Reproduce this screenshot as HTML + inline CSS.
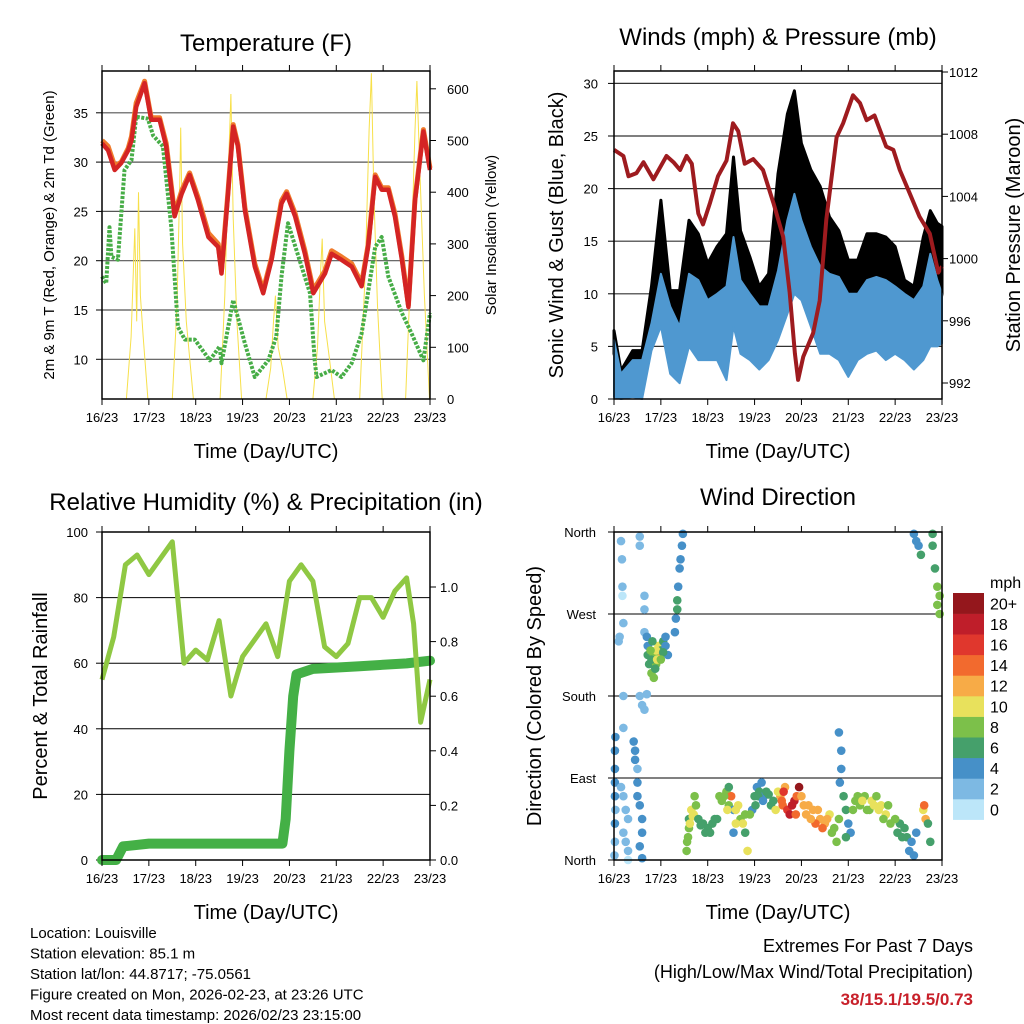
<!DOCTYPE html>
<html><head><meta charset="utf-8"><style>
html,body{margin:0;padding:0;background:#fff;}
svg{display:block;font-family:"Liberation Sans",Arial,sans-serif;}
</style></head><body>
<svg id="chart" width="1024" height="1024" viewBox="0 0 1024 1024">
<rect width="1024" height="1024" fill="#fff"/>
<g id="layer"></g>
</svg>
<script>
// ---------- Temperature panel data ----------
const tempT = [0,0.13,0.27,0.41,0.56,0.63,0.73,0.91,1.05,1.23,1.37,1.55,1.7,1.87,2.05,2.27,2.48,2.55,2.69,2.8,2.9,3.05,3.26,3.44,3.62,3.83,3.94,4.12,4.33,4.51,4.76,4.9,5.11,5.33,5.54,5.68,5.83,5.97,6.11,6.25,6.4,6.54,6.68,6.86,7];
const tempV = [31.9,31.2,29.2,29.9,31.2,32.2,35.6,38,34.3,34.3,31.6,24.5,26.8,28.7,26.1,22.4,21.4,18.7,26.8,33.6,31.6,25.1,19.4,16.7,20.1,25.8,26.8,24.5,20.7,16.7,18.7,20.7,20.1,19.4,17.4,21.4,28.5,27.2,27.2,24.5,20.1,15.3,26.1,33.1,29.2];
const temp9mV = [32.2,31.6,29.6,30.0,31.4,32.6,36.0,38.2,34.5,34.5,31.9,24.8,27.1,28.9,26.4,22.8,21.7,19.0,27.0,33.8,31.8,25.4,19.7,17.0,20.3,26.1,27.0,24.8,21.0,17.0,19.0,21.0,20.4,19.7,17.7,21.6,28.7,27.4,27.4,24.8,20.4,15.5,26.3,33.3,29.4];
const dewT = [0,0.09,0.16,0.2,0.34,0.48,0.63,0.73,0.98,1.09,1.3,1.48,1.62,1.77,1.98,2.3,2.51,2.55,2.8,3.05,3.26,3.55,3.72,3.83,3.97,4.26,4.44,4.54,4.58,4.9,5.11,5.33,5.54,5.83,5.97,6.11,6.4,6.61,6.86,7];
const dewV = [18.4,17.7,23.4,20.4,20.1,29.2,30.2,34.6,34.4,32.7,31.6,23.4,13.3,12,12,9.9,11.3,9.6,16,11.6,8.2,9.9,12.3,18.4,23.8,19.4,16.7,9.9,8.2,8.9,8.2,9.6,12.6,21.4,22.4,18.4,14.7,12.6,9.9,14.7];
const solarT = [0.52,0.62,0.7,0.74,0.78,0.82,0.88,0.98, 1.5,1.6,1.66,1.68,1.72,1.8,1.95, 2.52,2.62,2.7,2.75,2.8,2.88,2.98, 3.5,3.6,3.66,3.7,3.76,3.85,3.95, 4.5,4.6,4.66,4.7,4.75,4.85,4.96, 5.5,5.62,5.7,5.75,5.8,5.88,5.98, 6.48,6.6,6.68,6.72,6.78,6.88,6.99];
const solarV = [0,120,330,150,400,200,120,0, 0,180,420,525,300,150,0, 0,200,450,590,350,150,0, 0,60,150,200,100,60,0, 0,100,240,310,150,80,0, 0,250,520,630,400,180,0, 0,280,520,615,450,200,0];
const tempTicks = [10,15,20,25,30,35];
const solarTicks = [0,100,200,300,400,500,600];
const dayLabels = ["16/23","17/23","18/23","19/23","20/23","21/23","22/23","23/23"];

// ---------- Winds panel data ----------
const windT = [0,0.15,0.4,0.6,0.8,1.0,1.2,1.4,1.6,1.8,2.0,2.2,2.4,2.55,2.7,2.9,3.1,3.3,3.5,3.7,3.85,4.0,4.2,4.4,4.6,4.8,5.0,5.2,5.4,5.6,5.8,6.0,6.2,6.4,6.6,6.75,6.9,7.0];
const windHi = [5.6,2.4,3.7,3.7,7.2,11.9,8.8,6.9,11.9,11.3,9.4,10,10.7,15.4,11.3,10,8.8,8.8,12.2,17,19.5,17,14.5,12.6,11.9,11.6,10,10,11.3,11.6,11.3,10.7,10,9.4,10.7,13.8,11.3,10];
const windLo = [0.2,0,0.2,0,4.6,6.9,2.4,1.5,5,3.7,3.7,3.7,1.8,6.9,4.3,3.7,2.8,3.7,5.6,8.1,10,9.4,6.9,4.3,4.3,3.7,2.1,3.7,4.3,4.6,3.7,4.3,3.7,2.8,3.7,5,5,5.3];
const gustHi = [6.5,2.7,4.6,4.6,10.7,18.9,10.3,10.3,17,15.7,12.9,14.5,15.7,23,16,13.5,10.7,11.9,21.4,27.1,29.3,24.3,21.8,20.2,17.3,16,13.2,13.2,15.7,15.7,15.4,14.5,11.3,10.7,15.4,17.9,16.7,16.4];
const gustLo = [4.3,1.8,2.1,3,5.9,10,5,4.3,8.4,8.1,6.9,7.2,7.5,10,8.1,6.2,5,6.6,10,13.2,16.4,12.6,10,6.9,9.4,6.9,6.2,6.9,7.5,8.1,8.1,8.4,6.9,5.6,6.9,10,7.5,10];
const presT = [0,0.2,0.31,0.48,0.63,0.84,1.12,1.27,1.41,1.55,1.66,1.8,1.9,2.05,2.22,2.4,2.54,2.65,2.79,2.97,3.18,3.4,3.61,3.75,3.86,3.93,4.04,4.25,4.39,4.53,4.75,4.89,5.1,5.25,5.39,5.56,5.81,5.96,6.1,6.31,6.52,6.74,6.92,7];
const presV = [1007,1006.6,1005.3,1005.5,1006.2,1005.1,1006.6,1006.2,1005.7,1006.6,1006.1,1002.9,1002.2,1003.6,1005.3,1006.3,1008.7,1008.2,1006.1,1006.4,1005.7,1003.6,1001.4,997.8,993.9,992.2,993.7,995.2,997.3,1002.5,1007.8,1008.7,1010.5,1010,1008.9,1009.2,1007.2,1007,1005.7,1004.2,1002.7,1001.6,999.1,999.5];
const windTicks = [0,5,10,15,20,25,30];
const presTicks = [992,996,1000,1004,1008,1012];

// ---------- RH panel data ----------
const rhT = [0,0.25,0.5,0.75,1.0,1.25,1.5,1.75,2.0,2.25,2.5,2.75,3.0,3.25,3.5,3.75,4.0,4.25,4.5,4.75,5.0,5.25,5.5,5.75,6.0,6.25,6.5,6.65,6.8,7.0];
const rhV = [55,68,90,93,87,92,97,60,64,61,73,50,62,67,72,62,85,90,85,65,62,66,80,80,74,82,86,72,42,55];
const rainT = [0,0.3,0.45,1.0,2.0,3.0,3.85,3.92,4.0,4.08,4.15,4.5,5.5,6.5,7];
const rainV = [0,0,0.05,0.06,0.06,0.06,0.06,0.15,0.4,0.6,0.68,0.70,0.71,0.72,0.73];
const rhTicks = [0,20,40,60,80,100];
const rainTicks = ["0.0","0.2","0.4","0.6","0.8","1.0"];

// ---------- Wind direction data ----------
const dirT = [0.02,0.02,0.03,0.02,0.02,0.01,0.02,0.02,0.03,0.15,0.17,0.18,0.18,0.2,0.12,0.1,0.15,0.2,0.25,0.3,0.2,0.25,0.3,0.3,0.2,0.2,0.42,0.45,0.45,0.5,0.5,0.5,0.55,0.6,0.6,0.55,0.6,0.55,0.6,0.65,0.7,0.55,0.55,0.65,0.65,0.65,
0.7,0.72,0.72,0.75,0.8,0.85,0.9,0.95,0.95,1.0,1.05,1.1,1.15,0.85,0.8,0.9,1.05,1.1,
1.3,1.32,1.35,1.35,1.37,1.4,1.42,1.45,1.47,
1.55,1.56,1.6,1.65,1.7,1.75,1.72,1.6,1.9,2.0,2.1,2.2,1.95,
2.25,2.3,2.4,2.45,2.5,2.45,2.55,2.55,2.6,2.7,2.75,2.8,2.85,2.8,
3.0,3.05,3.1,3.2,3.3,3.35,3.15,2.95,
3.55,3.6,3.7,3.85,3.9,3.95,4.05,3.75,3.5,3.65,
4.35,4.4,4.5,4.6,4.7,4.8,4.75,4.3,
4.8,4.85,4.85,4.82,4.9,4.95,5.0,5.05,4.95,
5.15,5.25,5.35,5.5,5.6,5.7,5.8,5.9,5.45,
6.1,6.2,6.25,6.3,6.35,6.4,6.45,
6.6,6.65,6.62,6.7,6.75,
6.4,6.45,6.5,6.55,
6.8,6.8,6.85,6.9,6.95,6.9,6.95,
1.58,1.62,1.68,1.8,1.85,2.05,2.15,2.35,2.42,2.6,2.65,2.9,3.02,3.08,3.18,3.25,3.4,3.45,3.58,3.62,3.8,3.88,4.0,4.1,4.15,4.2,4.25,4.45,4.55,4.65,5.1,5.2,5.3,5.4,5.55,5.65,5.75,5.85,6.0,6.05,6.15,0.78,0.88,0.82,0.92,1.0];
const dirDeg = [85,70,55,40,20,5,100,120,135,350,330,300,290,260,245,240,80,70,55,45,30,20,10,0,180,145,130,120,110,100,85,70,60,45,30,15,2,180,170,165,182,355,345,290,275,250,
245,235,225,215,205,200,215,225,235,230,240,235,225,225,220,230,228,245,
250,265,275,285,300,320,330,345,358,
10,20,45,55,50,60,70,35,40,35,40,45,30,
70,65,75,60,70,80,55,30,55,45,40,30,10,50,
70,80,75,70,72,60,85,55,
70,60,55,65,70,80,60,50,75,80,
55,45,40,50,35,45,20,40,
140,120,100,85,70,55,40,30,25,
65,60,70,65,70,60,50,40,55,
40,35,25,10,20,5,30,
55,45,60,40,20,
358,350,345,335,
358,345,320,300,290,280,270,
25,40,48,45,38,30,45,70,55,40,60,50,60,70,65,75,65,55,65,75,60,50,70,50,60,45,55,35,45,30,55,70,65,55,60,55,45,60,45,30,25,230,210,240,220,220];
const dirSpd = [3,3,2,3,2,2,4,4,4,1,1,1,0,1,1,2,2,2,1,2,1,1,1,0,1,2,3,3,3,2,3,3,3,3,3,3,3,1,1,1,2,1,2,1,1,1,
4,4,6,6,7,8,7,12,10,6,6,4,4,8,6,9,5,3,
4,4,6,6,3,4,3,4,4,
8,8,6,10,9,8,7,7,5,6,6,5,5,
7,7,7,8,14,6,4,4,10,8,10,6,9,7,
6,4,6,4,6,5,4,4,
12,14,16,18,14,20,12,18,10,12,
12,12,12,10,8,8,7,14,
3,3,3,4,6,6,4,4,6,
8,8,7,10,8,9,10,8,7,
6,6,5,4,4,3,4,
10,12,14,6,6,
4,3,4,6,
6,6,6,8,7,7,8,
8,9,10,6,5,6,6,7,10,9,9,8,5,6,4,6,6,10,13,16,17,14,12,11,12,12,12,13,11,8,8,7,10,8,9,10,8,7,7,6,5,8,6,5,9,7];
const dirLabels = ["North","East","South","West","North"];
const spdLabels = ["0","2","4","6","8","10","12","14","16","18","20+"];
const spdColors = ["#bce6f9","#7db9e3","#4690c8","#45a06b","#7cc04a","#e8e15c","#f7ab47","#f26a2e","#e0372d","#bf1e2a","#94171c"];

const NS="http://www.w3.org/2000/svg";
const layer=document.getElementById('layer');
function mk(tag,attrs,parent){const e=document.createElementNS(NS,tag);for(const k in attrs)e.setAttribute(k,attrs[k]);(parent||layer).appendChild(e);return e;}
function txt(x,y,s,size,anchor,parent,extra){const e=mk('text',Object.assign({x:x,y:y,'font-size':size,'text-anchor':anchor||'middle',fill:'#000'},extra||{}),parent);e.textContent=s;return e;}
function path(pts){return pts.map((p,i)=>(i?'L':'M')+p[0].toFixed(1)+','+p[1].toFixed(1)).join('');}

function panel(name,x0,x1,y0,y1){
  const g=mk('g',{});
  
  
  return {g:g,x0:x0,x1:x1,y0:y0,y1:y1,X:d=>x0+d*(x1-x0)/7};
}
function frame(P){
  const r=mk('rect',{x:P.x0,y:P.y0,width:P.x1-P.x0,height:P.y1-P.y0,fill:'none',stroke:'#000','stroke-width':1.5},P.g);
  
  
}
function xAxis(P,titleY){
  const ax=mk('g',{},P.g);
  
  
  dayLabels.forEach((s,i)=>{
    const x=P.X(i);
    mk('line',{x1:x,x2:x,y1:P.y1,y2:P.y1+6,stroke:'#000','stroke-width':1},ax);
    mk('line',{x1:x,x2:x,y1:P.y0,y2:P.y0-6,stroke:'#000','stroke-width':1},ax);
    const t=txt(x,P.y1+23,s,13,'middle',ax);
    
    
  });
  const t=txt((P.x0+P.x1)/2,titleY,'Time (Day/UTC)',20,'middle',ax);
  
  
}
function title(x,y,s){const t=txt(x,y,s,24,'middle');}
function vtitle(x,y,s,size,name){const t=txt(0,0,s,size,'middle',layer,{transform:'translate('+x+','+y+') rotate(-90)'});}

// ===== Temperature panel =====
(function(){
  const P=panel('temperature-panel',102,430,71,399);
  const Y=v=>359.3-(v-10)*9.86;
  const YS=v=>399-v*0.517;
  tempTicks.forEach(v=>{
    mk('line',{x1:P.x0,x2:P.x1,y1:Y(v),y2:Y(v),stroke:'#555','stroke-width':1.2},P.g);
    mk('line',{x1:P.x0-6,x2:P.x0,y1:Y(v),y2:Y(v),stroke:'#000'},P.g);
    const t=txt(P.x0-14,Y(v)+5,String(v),13,'end',P.g);
  });
  solarTicks.forEach(v=>{
    mk('line',{x1:P.x1,x2:P.x1+6,y1:YS(v),y2:YS(v),stroke:'#000'},P.g);
    const t=txt(P.x1+17,YS(v)+5,String(v),13,'start',P.g);
  });
  const clip=mk('clipPath',{id:'c1'},P.g);mk('rect',{x:P.x0,y:P.y0,width:P.x1-P.x0,height:P.y1-P.y0},clip);
  const sp=mk('path',{d:path(solarT.map((t,i)=>[P.X(t),YS(solarV[i])])),fill:'none',stroke:'#f7e04a','stroke-width':1,'clip-path':'url(#c1)'},P.g);
  
  const dp=mk('path',{d:path(dewT.map((t,i)=>[P.X(t),Y(dewV[i])])),fill:'none',stroke:'#47ad47','stroke-width':4,'stroke-dasharray':'3 1.5','stroke-linejoin':'round'},P.g);
  
  const op=mk('path',{d:path(tempT.map((t,i)=>[P.X(t),Y(temp9mV[i])])),fill:'none',stroke:'#f07b2c','stroke-width':5,'stroke-linejoin':'round'},P.g);
  
  const rp=mk('path',{d:path(tempT.map((t,i)=>[P.X(t),Y(tempV[i])])),fill:'none',stroke:'#d42424','stroke-width':4.5,'stroke-linejoin':'round'},P.g);
  
  frame(P);xAxis(P,458);
  title(266,51,'Temperature (F)');
  vtitle(54,235,'2m & 9m T (Red, Orange) & 2m Td (Green)',15,'y-axis-title');
  vtitle(496,235,'Solar Insolation (Yellow)',15,'right-axis-title');
})();

// ===== Winds panel =====
(function(){
  const P=panel('winds-panel',614,942,71,399);
  const Y=v=>399-v*10.52;
  const YP=v=>383-(v-992)*15.55;
  windTicks.forEach(v=>{
    if(v>0)mk('line',{x1:P.x0,x2:P.x1,y1:Y(v),y2:Y(v),stroke:'#333','stroke-width':1.2},P.g);
    mk('line',{x1:P.x0-6,x2:P.x0,y1:Y(v),y2:Y(v),stroke:'#000'},P.g);
    const t=txt(P.x0-16,Y(v)+5,String(v),13,'end',P.g);
  });
  presTicks.forEach(v=>{
    mk('line',{x1:P.x1,x2:P.x1+6,y1:YP(v),y2:YP(v),stroke:'#000'},P.g);
    const t=txt(P.x1+7,YP(v)+5,String(v),13,'start',P.g);
  });
  const gb=windT.map((t,i)=>[P.X(t),Y(gustHi[i])]).concat(windT.map((t,i)=>[P.X(t),Y(gustLo[i])]).reverse());
  const g1=mk('path',{d:path(gb)+'Z',fill:'#000',stroke:'#000','stroke-width':3,'stroke-linejoin':'round'},P.g);
  
  const wb=windT.map((t,i)=>[P.X(t),Y(windHi[i])]).concat(windT.map((t,i)=>[P.X(t),Y(windLo[i])]).reverse());
  const w1=mk('path',{d:path(wb)+'Z',fill:'#4f98d0',stroke:'#4f98d0','stroke-width':2,'stroke-linejoin':'round'},P.g);
  
  const pp=mk('path',{d:path(presT.map((t,i)=>[P.X(t),YP(presV[i])])),fill:'none',stroke:'#9e1b1f','stroke-width':4,'stroke-linejoin':'round'},P.g);
  
  frame(P);xAxis(P,458);
  title(778,45,'Winds (mph) & Pressure (mb)');
  vtitle(563,235,'Sonic Wind & Gust (Blue, Black)',20,'y-axis-title');
  vtitle(1020,235,'Station Pressure (Maroon)',20,'right-axis-title');
})();

// ===== RH panel =====
(function(){
  const P=panel('humidity-precip-panel',102,430,532,860);
  const Y=v=>860-v*3.28;
  const YR=v=>860-v*273;
  rhTicks.forEach(v=>{
    if(v>0&&v<100)mk('line',{x1:P.x0,x2:P.x1,y1:Y(v),y2:Y(v),stroke:'#000','stroke-width':1},P.g);
    mk('line',{x1:P.x0-6,x2:P.x0,y1:Y(v),y2:Y(v),stroke:'#000'},P.g);
    const t=txt(P.x0-14,Y(v)+5,String(v),13,'end',P.g);
  });
  rainTicks.forEach(s=>{
    const v=parseFloat(s);
    mk('line',{x1:P.x1,x2:P.x1+6,y1:YR(v),y2:YR(v),stroke:'#000'},P.g);
    const t=txt(P.x1+10,YR(v)+5,s,13,'start',P.g);
  });
  const rp=mk('path',{d:path(rainT.map((t,i)=>[P.X(t),YR(rainV[i])])),fill:'none',stroke:'#44b046','stroke-width':10,'stroke-linejoin':'round','stroke-linecap':'round'},P.g);
  
  const hp=mk('path',{d:path(rhT.map((t,i)=>[P.X(t),Y(rhV[i])])),fill:'none',stroke:'#8fc843','stroke-width':5,'stroke-linejoin':'round'},P.g);
  
  frame(P);xAxis(P,919);
  title(266,510,'Relative Humidity (%) & Precipitation (in)');
  vtitle(47,696,'Percent & Total Rainfall',20,'y-axis-title');
})();

// ===== Wind direction panel =====
(function(){
  const P=panel('wind-direction-panel',614,942,532,860);
  const Y=v=>860-v*328/360;
  dirLabels.forEach((s,i)=>{
    const y=Y(i*90);
    if(i>0&&i<4)mk('line',{x1:P.x0,x2:P.x1,y1:y,y2:y,stroke:'#000','stroke-width':1},P.g);
    mk('line',{x1:P.x0-6,x2:P.x0,y1:y,y2:y,stroke:'#000'},P.g);
    const t=txt(P.x0-18,y+5,s,13,'end',P.g);
  });
  dirT.forEach((t,i)=>{
    const ci=Math.min(10,Math.round(dirSpd[i]/2));
    const c=mk('circle',{cx:P.X(t),cy:Y(dirDeg[i]),r:4.3,fill:spdColors[ci]},P.g);
    
    
  });
  frame(P);xAxis(P,919);
  title(778,505,'Wind Direction');
  vtitle(541,696,'Direction (Colored By Speed)',20,'y-axis-title');
  const lg=mk('g',{});
  
  
  txt(990,588,'mph',16,'start',lg);
  const bh=20.6;
  spdLabels.forEach((s,i)=>{
    const y=593+(10-i)*bh;
    const r=mk('rect',{x:953,y:y,width:31,height:bh+0.3,fill:spdColors[i]},lg);
    
    
    const t=txt(990,y+bh/2+6,s,16,'start',lg);
    
    
  });
})();

// ===== Footer text =====
(function(){
  const g=mk('g',{});
  
  
  ["Location: Louisville","Station elevation: 85.1 m","Station lat/lon: 44.8717; -75.0561","Figure created on Mon, 2026-02-23, at 23:26 UTC","Most recent data timestamp: 2026/02/23 23:15:00"].forEach((s,i)=>{
    txt(30,938+i*20.5,s,15,'start',g);
  });
  const e=mk('g',{});
  
  
  txt(973,952,'Extremes For Past 7 Days',18,'end',e);
  txt(973,978,'(High/Low/Max Wind/Total Precipitation)',18,'end',e);
  txt(973,1005,'38/15.1/19.5/0.73',17,'end',e,{fill:'#c8202a','font-weight':'bold'});
})();
</script>
</body></html>
